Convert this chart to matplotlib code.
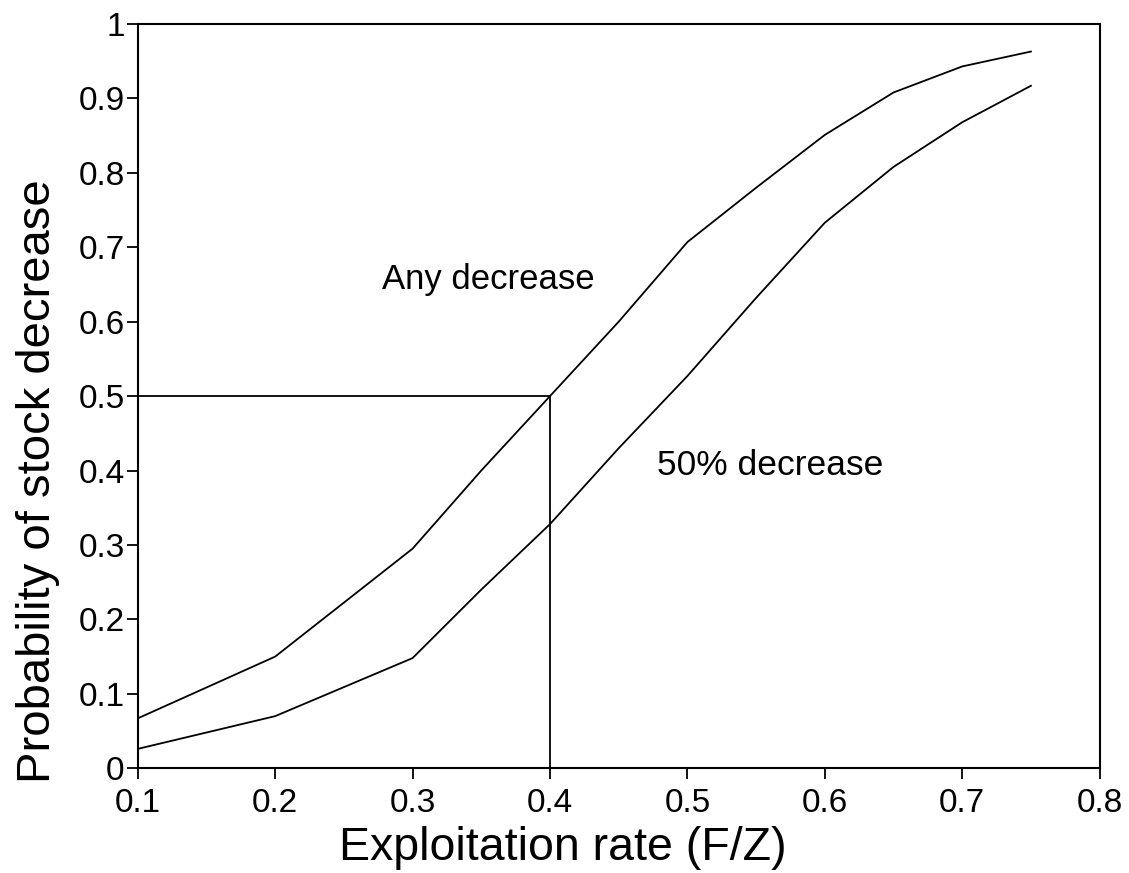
import numpy as np
import matplotlib
matplotlib.use("Agg")
import matplotlib.pyplot as plt

plt.rcParams['font.family'] = ['Liberation Sans', 'DejaVu Sans']

# Exploitation rate values and probabilities
x_rate = [0.1, 0.2, 0.3, 0.35, 0.4, 0.45, 0.5, 0.55, 0.6, 0.65, 0.7, 0.75]
p_any = [0.067, 0.15, 0.295, 0.40, 0.50, 0.60, 0.707, 0.78, 0.851, 0.908, 0.943, 0.963]
p_half = [0.026, 0.07, 0.148, 0.24, 0.328, 0.43, 0.527, 0.632, 0.733, 0.808, 0.868, 0.917]

# reference: rate giving a 50% chance of any decrease
ref_x = 0.4
ref_p = 0.5

xticks = [0.1, 0.2, 0.3, 0.4, 0.5, 0.6, 0.7, 0.8]
yticks = [0, 0.1, 0.2, 0.3, 0.4, 0.5, 0.6, 0.7, 0.8, 0.9, 1]
ytick_labels = ['0', '0.1', '0.2', '0.3', '0.4', '0.5', '0.6', '0.7', '0.8', '0.9', '1']

fig = plt.figure(figsize=(11.29, 8.73), dpi=100)
ax = fig.add_axes([0.122, 0.12, 0.852, 0.8525])

ax.plot(x_rate, p_any, color='black', linewidth=1.3)
ax.plot(x_rate, p_half, color='black', linewidth=1.3)

# guide lines at 0.5 probability
ax.plot([xticks[0], ref_x], [ref_p, ref_p], color='black', linewidth=1.3)
ax.plot([ref_x, ref_x], [0, ref_p], color='black', linewidth=1.3)

ax.text(0.278, 0.644, 'Any decrease', fontsize=25, va='baseline', ha='left')
ax.text(0.478, 0.394, '50% decrease', fontsize=25.5, va='baseline', ha='left')

ax.set_xlim(0.1, 0.8)
ax.set_ylim(0, 1)
ax.set_xticks(xticks)
ax.set_xticklabels([f'{v:.1f}' for v in xticks])
ax.set_yticks(yticks)
ax.set_yticklabels(ytick_labels)
ax.tick_params(direction='out', length=8, width=1.3, labelsize=24)
ax.tick_params(axis='x', pad=6.5)
ax.tick_params(axis='y', pad=1.5)
for s in ax.spines.values():
    s.set_linewidth(1.5)

ax.set_xlabel('Exploitation rate (F/Z)', fontsize=33.5)
ax.set_ylabel('Probability of stock decrease', fontsize=34)
ax.xaxis.set_label_coords(0.442, -0.077)
ax.yaxis.set_label_coords(-0.081, 0.386)

plt.savefig('out.png', dpi=100)
